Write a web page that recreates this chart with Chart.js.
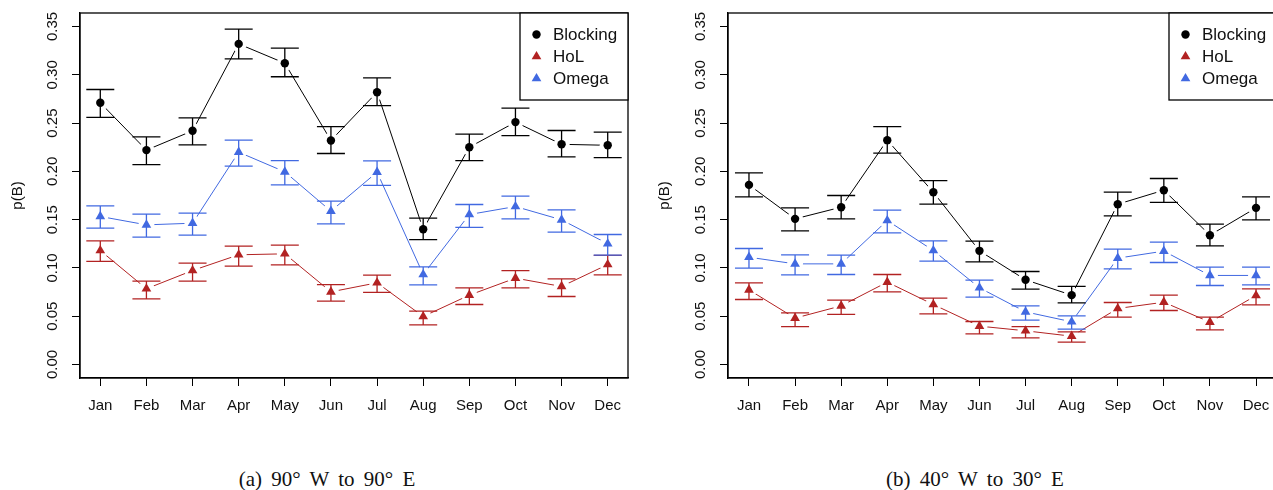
<!DOCTYPE html>
<html lang="en">
<head>
  <meta charset="UTF-8" />
  <title>Blocking probability by month</title>
  <script src="https://cdn.jsdelivr.net/npm/chart.js"></script>
  <style>
    html, body { margin: 0; padding: 0; background: #fff; width: 1273px; height: 490px; overflow: hidden; }
    .panel { position: absolute; top: 0; }
    .caption {
      position: absolute; top: 467px; line-height: 24px;
      font-family: "Liberation Serif", serif; font-size: 21px; word-spacing: 4px;
      color: #111; white-space: nowrap; transform: translateX(-50%);
    }
  </style>
</head>
<body>
  <canvas id="chartA" class="panel" style="left:0" width="640" height="430"></canvas>
  <canvas id="chartB" class="panel" style="left:640px" width="660" height="430"></canvas>
  <div class="caption" style="left:327px">(a) 90° W to 90° E</div>
  <div class="caption" style="left:975px">(b) 40° W to 30° E</div>

  <script>
    const months = ['Jan', 'Feb', 'Mar', 'Apr', 'May', 'Jun', 'Jul', 'Aug', 'Sep', 'Oct', 'Nov', 'Dec'];
    const yTicks = [0, 0.05, 0.10, 0.15, 0.20, 0.25, 0.30, 0.35];
    const seriesNames = ['Blocking', 'HoL', 'Omega'];

    // (a) 90W to 90E
    const blockA   = [0.271, 0.222, 0.242, 0.332, 0.312, 0.232, 0.282, 0.140, 0.225, 0.251, 0.228, 0.227];
    const blockALo = [0.256, 0.207, 0.2275, 0.3165, 0.298, 0.2185, 0.268, 0.1294, 0.2112, 0.2371, 0.215, 0.2143];
    const blockAHi = [0.2848, 0.2357, 0.2554, 0.3472, 0.3276, 0.2464, 0.2968, 0.1515, 0.2385, 0.2654, 0.2423, 0.2406];
    const holA     = [0.118, 0.0784, 0.0973, 0.1136, 0.1146, 0.0752, 0.0846, 0.0497, 0.0718, 0.0894, 0.0808, 0.1035];
    const holALo   = [0.1067, 0.068, 0.0863, 0.1018, 0.1032, 0.0656, 0.0746, 0.0411, 0.0621, 0.0794, 0.0704, 0.0929];
    const holAHi   = [0.1281, 0.0863, 0.1049, 0.1225, 0.1236, 0.0828, 0.0925, 0.0552, 0.0794, 0.0973, 0.0887, 0.1129];
    const omegaA   = [0.1533, 0.1446, 0.1463, 0.2199, 0.1995, 0.1588, 0.1992, 0.0932, 0.1553, 0.1636, 0.1498, 0.125];
    const omegaALo = [0.1412, 0.1319, 0.1339, 0.2054, 0.186, 0.1457, 0.1854, 0.0825, 0.1419, 0.1508, 0.137, 0.1132];
    const omegaAHi = [0.1643, 0.1557, 0.1567, 0.2323, 0.2112, 0.1691, 0.2109, 0.1011, 0.1657, 0.1743, 0.1602, 0.1346];

    // (b) 40W to 30E
    const blockB   = [0.186, 0.1508, 0.1629, 0.2323, 0.1784, 0.1177, 0.0877, 0.0718, 0.166, 0.1805, 0.1339, 0.1622];
    const blockBLo = [0.1736, 0.1384, 0.1508, 0.2188, 0.166, 0.1063, 0.078, 0.0639, 0.1539, 0.1678, 0.1229, 0.1498];
    const blockBHi = [0.1985, 0.1622, 0.175, 0.2464, 0.1905, 0.1277, 0.0963, 0.0808, 0.1784, 0.1926, 0.1453, 0.1736];
    const holB     = [0.0773, 0.048, 0.0607, 0.0853, 0.0621, 0.0397, 0.0349, 0.0293, 0.058, 0.0645, 0.0438, 0.0714];
    const holBLo   = [0.0673, 0.0393, 0.0518, 0.0752, 0.0525, 0.0318, 0.0276, 0.0231, 0.049, 0.0559, 0.0359, 0.0618];
    const holBHi   = [0.0846, 0.0535, 0.0666, 0.0932, 0.0687, 0.0445, 0.0393, 0.0338, 0.0642, 0.0718, 0.049, 0.0784];
    const omegaB   = [0.1111, 0.1042, 0.1042, 0.1491, 0.118, 0.0794, 0.0545, 0.0442, 0.1101, 0.1174, 0.0922, 0.0922];
    const omegaBLo = [0.0998, 0.0929, 0.0932, 0.1363, 0.107, 0.0697, 0.0459, 0.0366, 0.0991, 0.1056, 0.0818, 0.0825];
    const omegaBHi = [0.1201, 0.1136, 0.1132, 0.1598, 0.1281, 0.0873, 0.0607, 0.0504, 0.1194, 0.1267, 0.1008, 0.1008];

    const FONT = '"Liberation Sans", Arial, sans-serif';
    const colors = ['#000000', '#B22222', '#4169E1'];
    const styles = ['circle', 'triangle', 'triangle'];
    const radii = [4.2, 5.6, 5.6];

    const toPoints = vals => vals.map((v, i) => ({ x: i + 1, y: v }));

    // error bars go between the connecting lines and the markers
    const errorBars = {
      id: 'errorBars',
      beforeDatasetsDraw(chart) { chart.$barsDone = false; },
      beforeDatasetDraw(chart, args, opts) {
        if (chart.$barsDone || chart.data.datasets[args.index].role !== 'marker') return;
        const { ctx, scales: { x, y } } = chart;
        ctx.save();
        ctx.lineWidth = 1.3;
        opts.bars.forEach(b => {
          ctx.strokeStyle = b.color;
          b.lo.forEach((lo, i) => {
            const px = x.getPixelForValue(i + 1);
            const p1 = y.getPixelForValue(lo);
            const p2 = y.getPixelForValue(b.hi[i]);
            ctx.beginPath();
            ctx.moveTo(px, p1); ctx.lineTo(px, p2);
            ctx.moveTo(px - 14, p1); ctx.lineTo(px + 14, p1);
            ctx.moveTo(px - 14, p2); ctx.lineTo(px + 14, p2);
            ctx.stroke();
          });
        });
        ctx.restore();
        chart.$barsDone = true;
      }
    };

    // box, R-style rotated y labels and the legend
    const frame = {
      id: 'frame',
      afterDraw(chart) {
        const { ctx, chartArea: a, scales: { y } } = chart;
        ctx.save();
        ctx.strokeStyle = '#000';
        ctx.lineWidth = 1.3;
        ctx.strokeRect(a.left, a.top, a.right - a.left, a.bottom - a.top);

        ctx.fillStyle = '#111';
        ctx.font = '15px ' + FONT;
        ctx.textAlign = 'center';
        ctx.textBaseline = 'middle';
        yTicks.forEach(v => {
          ctx.save();
          ctx.translate(a.left - 27, y.getPixelForValue(v));
          ctx.rotate(-Math.PI / 2);
          ctx.fillText(v.toFixed(2), 0, 0);
          ctx.restore();
        });

        const w = 108, h = 87, lx = a.right - w, ly = a.top;
        ctx.fillStyle = '#fff';
        ctx.fillRect(lx, ly, w, h);
        ctx.strokeRect(lx, ly, w, h);
        ctx.font = '17px ' + FONT;
        ctx.textAlign = 'left';
        seriesNames.forEach((name, i) => {
          const cy = ly + 21.5 + i * 22;
          ctx.fillStyle = colors[i];
          Chart.helpers.drawPoint(ctx, { pointStyle: styles[i], radius: radii[i], rotation: 0, borderWidth: 0 }, lx + 16.5, cy);
          ctx.fillStyle = '#111';
          ctx.fillText(name, lx + 33, cy + 1);
        });
        ctx.restore();
      }
    };

    function makeChart(id, series, box) {
      const datasets = [];
      series.forEach((s, i) => {
        datasets.push({
          role: 'line', order: 2, data: toPoints(s.vals),
          borderColor: colors[i], borderWidth: 1,
          pointRadius: 8, pointBackgroundColor: '#fff', pointBorderWidth: 0
        });
      });
      series.forEach((s, i) => {
        datasets.push({
          role: 'marker', order: 1, data: toPoints(s.vals), showLine: false,
          pointStyle: styles[i], pointRadius: radii[i],
          pointBackgroundColor: colors[i], pointBorderWidth: 0
        });
      });

      return new Chart(document.getElementById(id), {
        type: 'line',
        data: { datasets },
        options: {
          responsive: false,
          animation: false,
          events: [],
          layout: { padding: { top: 13, right: box.padRight, left: 0, bottom: 0 } },
          plugins: {
            legend: { display: false },
            tooltip: { enabled: false },
            errorBars: { bars: series.map((s, i) => ({ lo: s.lo, hi: s.hi, color: colors[i] })) }
          },
          scales: {
            x: {
              type: 'linear', min: box.xMin, max: box.xMax,
              afterBuildTicks: sc => { sc.ticks = months.map((m, i) => ({ value: i + 1 })); },
              afterFit: sc => { sc.height = 52; },
              grid: { drawOnChartArea: false, tickLength: 8, color: '#000' },
              border: { color: '#000', width: 1.3 },
              ticks: {
                callback: v => months[Math.round(v) - 1],
                font: { family: FONT, size: 15 }, color: '#111',
                padding: 11, maxRotation: 0, autoSkip: false
              }
            },
            y: {
              min: -0.014, max: 0.364,
              afterBuildTicks: sc => { sc.ticks = yTicks.map(v => ({ value: v })); },
              afterFit: sc => { sc.width = box.yWidth; },
              grid: { drawOnChartArea: false, tickLength: 8, color: '#000' },
              border: { color: '#000', width: 1.3 },
              ticks: { display: false },
              title: {
                display: true, text: 'p(B)', color: '#111',
                font: { family: FONT, size: 15 }, padding: { top: box.titlePad, bottom: 0 }
              }
            }
          }
        },
        plugins: [errorBars, frame]
      });
    }

    makeChart('chartA', [
      { vals: blockA, lo: blockALo, hi: blockAHi },
      { vals: holA, lo: holALo, hi: holAHi },
      { vals: omegaA, lo: omegaALo, hi: omegaAHi }
    ], { yWidth: 80, titlePad: 9, padRight: 12, xMin: 0.56, xMax: 12.44 });

    makeChart('chartB', [
      { vals: blockB, lo: blockBLo, hi: blockBHi },
      { vals: holB, lo: holBLo, hi: holBHi },
      { vals: omegaB, lo: omegaBLo, hi: omegaBHi }
    ], { yWidth: 88, titlePad: 16, padRight: 23, xMin: 0.545, xMax: 12.455 });
  </script>
</body>
</html>
